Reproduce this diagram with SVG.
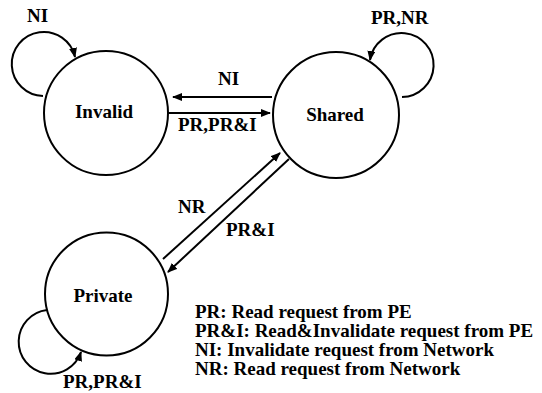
<svg xmlns="http://www.w3.org/2000/svg" width="542" height="393" viewBox="0 0 542 393">
<style>
.st{fill:#fff;stroke:#000;stroke-width:2}
.ln{fill:none;stroke:#000;stroke-width:2}
.t{font-family:'Liberation Serif',Tinos,'Times New Roman',Times,'DejaVu Serif','Noto Serif',serif;font-weight:bold;font-size:19px;fill:#000}
.c{text-anchor:middle}
</style>
<defs>
<marker id="ah" viewBox="0 0 10 8" refX="9" refY="4" markerWidth="10" markerHeight="8" markerUnits="userSpaceOnUse" orient="auto">
<path d="M0,0 L10,4 L0,8 Z" fill="#000"/>
</marker>
</defs>
<rect width="542" height="393" fill="#fff"/>
<g id="connectors">
<path class="ln" d="M43,96 A32,32 0 1 1 75,57" marker-end="url(#ah)"/>
<path class="ln" d="M402,97 A32,32 0 1 0 370,60" marker-end="url(#ah)"/>
<path class="ln" d="M47,310 A32,32 0 1 0 81,352" marker-end="url(#ah)"/>
<line class="ln" x1="272" y1="97" x2="173" y2="97" marker-end="url(#ah)"/>
<line class="ln" x1="168" y1="113" x2="270" y2="113" marker-end="url(#ah)"/>
<line class="ln" x1="163" y1="259" x2="280" y2="153" marker-end="url(#ah)"/>
<line class="ln" x1="289" y1="159" x2="168" y2="272" marker-end="url(#ah)"/>
<text class="t" x="27" y="22">NI</text>
<text class="t" x="371" y="24">PR,NR</text>
<text class="t" x="218" y="85">NI</text>
<text class="t" x="178" y="131">PR,PR&amp;I</text>
<text class="t" x="178" y="213">NR</text>
<text class="t" x="226" y="236">PR&amp;I</text>
<text class="t" x="63" y="388">PR,PR&amp;I</text>
</g>
<g id="invalid">
<circle class="st" cx="106" cy="113" r="62"/>
<text class="t c" x="104" y="118">Invalid</text>
</g>
<g id="shared">
<circle class="st" cx="336" cy="115" r="63"/>
<text class="t c" x="335" y="121">Shared</text>
</g>
<g id="private">
<circle class="st" cx="106.5" cy="294" r="61.5"/>
<text class="t c" x="103" y="302">Private</text>
</g>
<g id="legend">
<text class="t" x="195" y="318">PR: Read request from PE</text>
<text class="t" x="195" y="337">PR&amp;I: Read&amp;Invalidate request from PE</text>
<text class="t" x="195" y="356">NI: Invalidate request from Network</text>
<text class="t" x="195" y="375">NR: Read request from Network</text>
</g>
</svg>
